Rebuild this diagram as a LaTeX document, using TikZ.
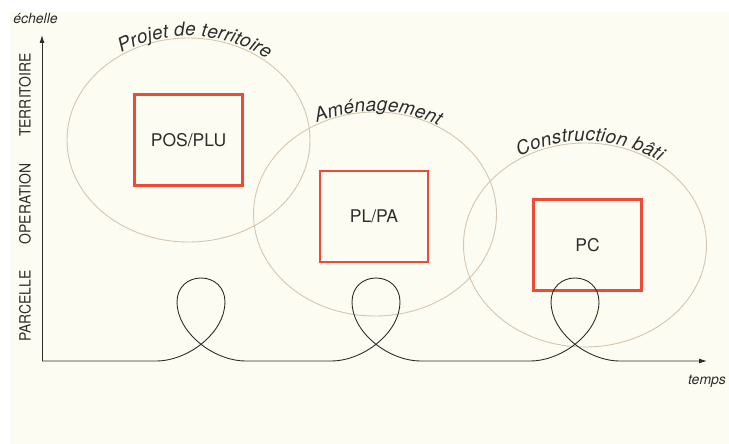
\documentclass[tikz,border=0pt]{standalone}
\usepackage{fontspec}
\setmainfont{TeX Gyre Heros}
\usetikzlibrary{shapes.geometric,decorations.text,arrows.meta}

\definecolor{fond}{RGB}{253,252,242}
\definecolor{beige}{RGB}{212,198,176}
\definecolor{rouge}{RGB}{238,74,54}
\definecolor{trait}{RGB}{45,45,45}

% une boucle du temps, centree en x = #1
\newcommand{\boucle}[1]{%
  -- ({#1-45},361) .. controls ({#1-12},361) and ({#1+24},332) .. ({#1+24},302)
  .. controls ({#1+24},287) and ({#1+13},278) .. ({#1},278)
  .. controls ({#1-13},278) and ({#1-24},287) .. ({#1-24},302)
  .. controls ({#1-24},332) and ({#1+12},361) .. ({#1+45},361)}

\begin{document}
\begin{tikzpicture}[x=1pt, y=-1pt,
  bulle/.style={ellipse, draw=beige, line width=0.9pt, minimum width=243pt,
                minimum height=204pt, inner sep=0pt},
  cadre/.style={rectangle, draw=rouge, line width=2.8pt, minimum width=108pt,
                minimum height=91pt, font=\fontsize{17.5}{20}\selectfont, text=trait},
  niveau/.style={rotate=90, font=\fontsize{15.5}{18}\selectfont, text=trait},
  legende/.style={font=\itshape\fontsize{14}{16}\selectfont, text=trait},
  axe/.style={-{Latex[length=8pt,width=5pt]}, line width=0.9pt, draw=trait},
  titre/.style={decorate, decoration={text along path, text align={fit to path},
                raise=2pt, text={|\itshape\fontsize{19}{22}\selectfont\color{trait}|#1}}}
]
  \useasboundingbox (0,0) rectangle (729,444);
  \fill[fond] (10,12) rectangle (729,444);

  % les trois echelles de projet
  \node[bulle] (territoire) at (188.5,140) {};
  \node[bulle] (amenagement) at (375,214) {};
  \node[bulle] (construction) at (585,245) {};

  \path[titre=Projet de territoire] (territoire.center) ++(237:121.5 and 102)
    arc[start angle=237, end angle=309, x radius=121.5, y radius=102];
  \path[titre=Aménagement] (amenagement.center) ++(242:121.5 and 101)
    arc[start angle=242, end angle=301, x radius=121.5, y radius=101];
  \path[titre=Construction bâti] (construction.center) ++(238:122 and 102)
    arc[start angle=238, end angle=307, x radius=122, y radius=102];

  \node[cadre] (pos) at (188.5,140) {POS/PLU};
  \node[cadre] (pl)  at (374,216.5) {PL/PA};
  \node[cadre] (pc)  at (587.5,245) {PC};

  % axes
  \coordinate (origine) at (42,361);
  \coordinate (haut)    at (42,35);
  \coordinate (fin)     at (707,361);

  \node[niveau] (parcelle)  at (25,306) {\scalebox{0.9}[1]{PARCELLE}};
  \node[niveau] (operation) at (25,204) {\scalebox{0.9}[1]{OPERATION}};
  \node[niveau] (terr)      at (25,95)  {\scalebox{0.9}[1]{TERRITOIRE}};

  \node[legende] (echelle) at (35.5,19) {échelle};
  \node[legende] (temps)   at (707,381) {temps};

  \draw[axe] (origine) -- (haut);
  \draw[axe] (origine) \boucle{201} \boucle{376} \boucle{575} -- (fin);

\end{tikzpicture}
\end{document}
